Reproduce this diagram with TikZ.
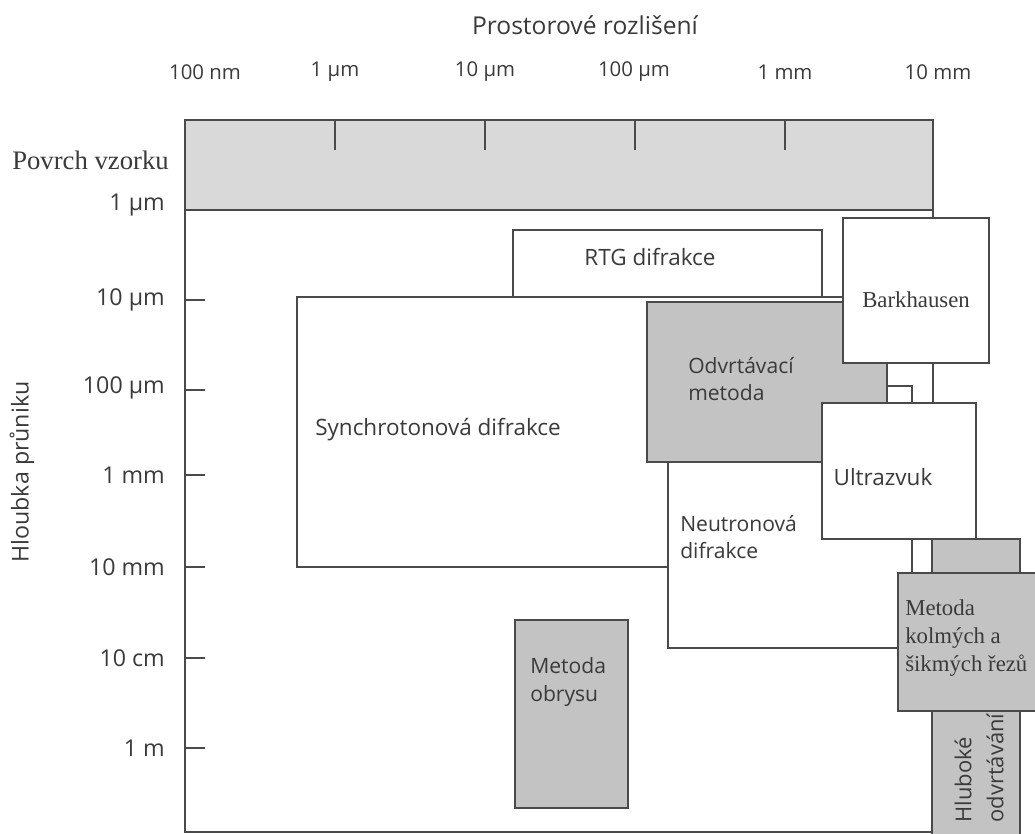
\documentclass[tikz,border=0pt]{standalone}
\usepackage{fontspec}
\setmainfont{Liberation Serif}
\setsansfont{Open Sans}
\usetikzlibrary{positioning}

\definecolor{linegray}{HTML}{4A4A4A}
\definecolor{bandgray}{HTML}{D9D9D9}
\definecolor{boxgray}{HTML}{C3C3C3}
\definecolor{textgray}{HTML}{3A3A3A}

\begin{document}
\begin{tikzpicture}[x=0.25mm,y=-0.25mm,
	frame/.style={draw=linegray,line width=1.4pt},
	whitebox/.style={frame,fill=white},
	graybox/.style={frame,fill=boxgray},
	sanslab/.style={font=\sffamily\fontsize{15}{19.5}\selectfont,text=textgray,align=left,inner sep=0pt},
	biglab/.style={sanslab,font=\sffamily\fontsize{16}{19.5}\selectfont},
	axislab/.style={font=\sffamily\fontsize{14.5}{17}\selectfont,text=textgray,inner sep=0pt},
	depthlab/.style={axislab,font=\sffamily\fontsize{16.5}{19}\selectfont},
	seriflab/.style={font=\rmfamily\fontsize{16.2}{19.8}\selectfont,text=textgray,align=left,inner sep=0pt}]
	\clip (0,0) rectangle (1035,834);
	\fill[white] (0,0) rectangle (1035,834);

	% axes
	\node[depthlab,font=\sffamily\fontsize{17.5}{20}\selectfont] (xtitle) at (585,25) {Prostorové rozlišení};
	\node[depthlab,rotate=90] (ytitle) at (22,472) {Hloubka průniku};
	\foreach \tx/\tlab [count=\i] in {205/100 nm,335/1 µm,485/10 µm,634/100 µm,785/1 mm,938/10 mm}{
		\node[axislab] (xlab\i) at (\tx,72) {\tlab};
	}
	\draw[frame] (185,210) rectangle (933,832);
	\draw[frame,fill=bandgray] (185,120) rectangle (933,210);
	\foreach \tx in {335,485,635,785}{
		\draw[frame] (\tx,120) -- (\tx,150);
	}
	\foreach \ty in {300,390,475,567,658,748}{
		\draw[frame] (185,\ty) -- (205,\ty);
	}
	\foreach \ty/\tlab [count=\i] in {205/1 µm,300/10 µm,388/100 µm,475/1 mm,567/10 mm,658/10 cm,748/1 m}{
		\node[depthlab,anchor=east] (ylab\i) at (165,\ty) {\tlab};
	}
	\node[seriflab,font=\rmfamily\fontsize{19}{22}\selectfont,anchor=west] (surface) at (12,160) {Povrch vzorku};

	% methods
	\draw[whitebox] (297,297) rectangle (880,567);
	\node[biglab,anchor=west] (synchro) at (315,430) {Synchrotonová difrakce};
	\draw[whitebox] (513,230) rectangle (822,297);
	\node[biglab] (rtg) at (650,257) {RTG difrakce};
	\draw[whitebox] (668,386) rectangle (912,648);
	\node[sanslab,anchor=west] (neutron) at (680,537) {Neutronová\\difrakce};
	\draw[graybox] (647,302) rectangle (887,462);
	\node[sanslab,anchor=west] (drill) at (688,379) {Odvrtávací\\metoda};
	\draw[whitebox] (843,218) rectangle (989,363);
	\node[seriflab] (barkh) at (916,300) {Barkhausen};
	\draw[whitebox] (822,403) rectangle (976,539);
	\node[biglab] (ultra) at (883,477) {Ultrazvuk};
	\draw[graybox] (932,539) rectangle (1020,845);
	\node[sanslab,font=\sffamily\fontsize{15.6}{22.8}\selectfont,rotate=90] (deepdrill) at (979,768) {Hluboké\\odvrtávání};
	\draw[graybox] (898,573) rectangle (1045,711);
	\node[seriflab,anchor=west] (cuts) at (905,638) {Metoda\\kolmých a\\šikmých řezů};
	\draw[graybox] (515,620) rectangle (628,808);
	\node[sanslab,anchor=west] (contour) at (530,682) {Metoda\\obrysu};
\end{tikzpicture}
\end{document}
